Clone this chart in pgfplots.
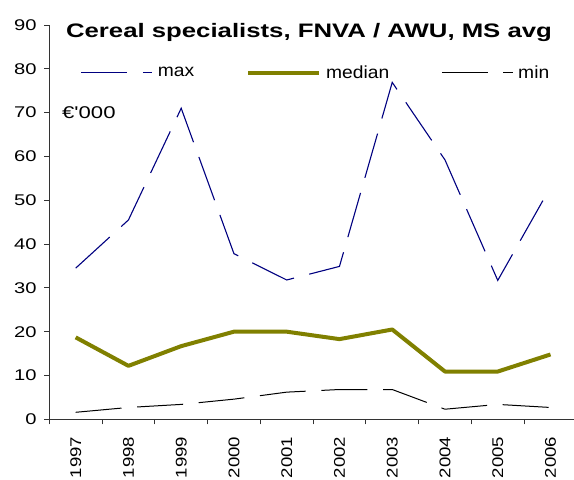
\documentclass[border=0pt]{standalone}
\usepackage{pgfplots}
\pgfplotsset{compat=1.18}
\usepackage{fontspec}
\setmainfont{Liberation Sans}
\usepackage{graphicx}
\definecolor{maxblue}{RGB}{0,0,128}
\definecolor{medolive}{RGB}{128,128,0}
\newcommand{\tickfont}{\fontsize{15.5bp}{18bp}\selectfont}
\newcommand{\legfont}{\fontsize{17.5bp}{20bp}\selectfont}
\newcommand{\unitfont}{\fontsize{17bp}{20bp}\selectfont}
\newcommand{\titlefont}{\fontsize{19.5bp}{22bp}\selectfont\bfseries}
\newcommand{\sx}[1]{\scalebox{1.3}[1]{#1}}
\newcommand{\sxl}[1]{\scalebox{1.2}[1]{#1}}
\begin{document}
\begin{tikzpicture}
\begin{axis}[
  scale only axis, width=527.6bp, height=394.3bp,
  xmin=-0.5, xmax=9.5, ymin=0, ymax=90,
  axis x line=bottom, axis y line=left,
  axis line style={-, black!80, line width=0.8bp},
  /pgf/number format/assume math mode=true,
  ytick={0,10,...,90},
  xtick={0,...,9},
  xticklabels={\sxl{1997},\sxl{1998},\sxl{1999},\sxl{2000},\sxl{2001},\sxl{2002},\sxl{2003},\sxl{2004},\sxl{2005},\sxl{2006}},
  minor xtick={-0.5,0.5,...,9.5},
  tick align=outside,
  major tick length=5bp, minor tick length=5bp,
  major x tick style={draw=none},
  tick style={black!80, line width=0.8bp},
  yticklabel={\sx{\tickfont\pgfmathprintnumber[assume math mode=true]{\tick}}},
  yticklabel style={font=\tickfont, inner sep=0pt, xshift=-7.6bp},
  xticklabel style={font=\tickfont, inner sep=0pt, yshift=-12.2bp, rotate=90, anchor=east},
  legend columns=3,
  legend style={draw=none, fill=none, at={(rel axis cs:0.0591,0.879)}, anchor=west,
    inner sep=0pt, font=\legfont,
    /tikz/every odd column/.style={column sep=3bp},
    /tikz/every even column/.style={column sep=50bp}},
  legend image code/.code={\draw[#1] (0bp,0bp) -- (71bp,0bp);},
  clip=false,
]
\addplot[maxblue, line width=1.1bp, dash pattern=on 46bp off 15.7bp] coordinates {
 (0,34.5) (1,45.5) (2,71.0) (3,37.8) (4,31.8) (5,34.9) (6,76.9) (7,59.2) (8,31.7) (9,53.0)};
\addlegendentry{\scalebox{1.1}[1]{max}}
\addplot[medolive, line width=4bp, line join=round] coordinates {
 (0,18.7) (1,12.2) (2,16.7) (3,20.0) (4,20.0) (5,18.3) (6,20.5) (7,10.9) (8,10.9) (9,14.8)};
\addlegendentry{\scalebox{1.1}[1]{median}}
\addplot[black, line width=1bp, dash pattern=on 46bp off 15.7bp] coordinates {
 (0,1.6) (1,2.7) (2,3.4) (3,4.6) (4,6.2) (5,6.8) (6,6.8) (7,2.3) (8,3.4) (9,2.7)};
\addlegendentry{\scalebox{1.1}[1]{min}}
\end{axis}
\node[anchor=base, font=\titlefont, inner sep=0pt] at (259.7bp,382bp) {\scalebox{1.32}[1]{Cereal specialists, FNVA / AWU, MS avg}};
\node[anchor=base west, font=\unitfont, inner sep=0pt] at (12.7bp,301bp) {\sx{€\textquotesingle 000}};
\pgfresetboundingbox
\path[use as bounding box] (-49.3bp,-60.7bp) rectangle (524.7bp,419.3bp);
\end{tikzpicture}
\end{document}
